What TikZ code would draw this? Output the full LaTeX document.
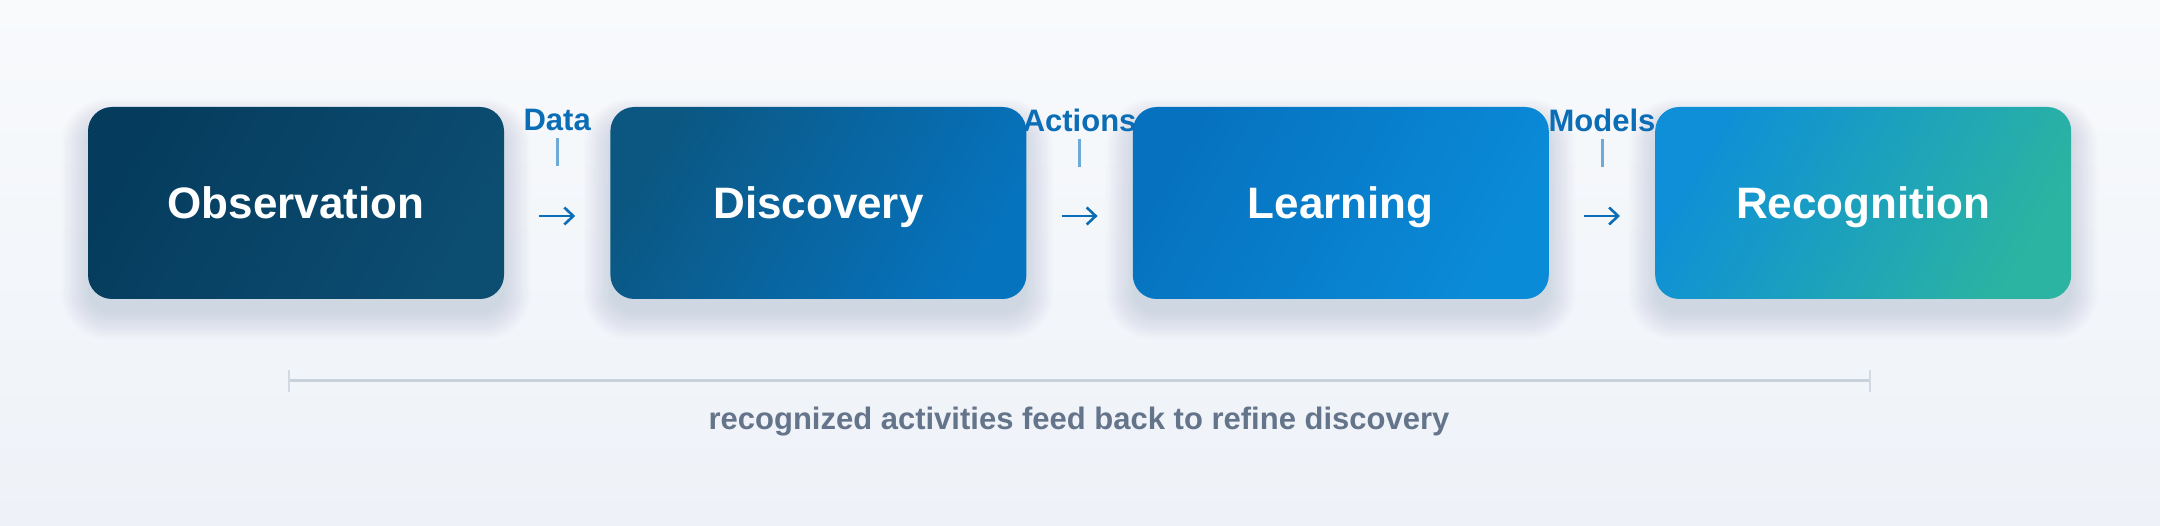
\documentclass[tikz,border=0pt]{standalone}
\usepackage{fontspec}
\setmainfont{Liberation Sans}
\usetikzlibrary{arrows.meta, positioning, backgrounds}

\definecolor{bgtop}{HTML}{F8FAFC}
\definecolor{bgbot}{HTML}{EEF2F8}
\definecolor{obsA}{HTML}{053C5D}
\definecolor{obsB}{HTML}{0C4D72}
\definecolor{discA}{HTML}{0B5782}
\definecolor{discB}{HTML}{0673BE}
\definecolor{learnA}{HTML}{0672BF}
\definecolor{learnB}{HTML}{0A8BD8}
\definecolor{recA}{HTML}{0E8FD7}
\definecolor{recB}{HTML}{2BB4A1}
\definecolor{flowblue}{HTML}{0B6DB5}
\definecolor{stemblue}{HTML}{6EA9D8}
\definecolor{railgray}{HTML}{C8D0DC}
\definecolor{notegray}{HTML}{64748B}
\definecolor{shadowc}{HTML}{1E3A5F}

\begin{document}
\begin{tikzpicture}[
	x=1pt, y=-1pt,
	node distance=106pt,
	stage/.style={rounded corners=24pt, minimum width=416pt, minimum height=192pt, inner sep=0pt, text height=32pt, text depth=0pt, text=white, font=\bfseries\fontsize{44}{52}\selectfont},
	grad/.style 2 args={left color=#1, right color=#2, shading angle=60},
	tag/.style={inner sep=0pt, text=flowblue, font=\bfseries\fontsize{31}{36}\selectfont},
	stem/.style={draw=stemblue, line width=3pt},
	arr/.style={-{Straight Barb[length=9pt, width=17pt]}, draw=flowblue, line width=2.6pt, shorten <=35pt, shorten >=35pt},
	rail/.style={draw=railgray, line width=3pt},
	railtick/.style={draw=railgray!80, line width=2pt},
	note/.style={text=notegray, font=\bfseries\fontsize{31}{36}\selectfont}
]

% page background
\begin{scope}[on background layer]
	\fill[top color=bgtop, bottom color=bgbot] (0,0) rectangle (2160,526);
\end{scope}

% pipeline stages
\node[stage, grad={obsA}{obsB}] (obs) at (296,203) {Observation};
\node[stage, grad={discA}{discB}, right=of obs] (disc) {Discovery};
\node[stage, grad={learnA}{learnB}, right=of disc] (learn) {Learning};
\node[stage, grad={recA}{recB}, right=of learn] (rec) {Recognition};

% soft shadows under the stages
\begin{scope}[on background layer]
	\foreach \n in {obs, disc, learn, rec}
		\foreach \k in {0,...,11}
			\fill[shadowc, opacity=0.012, rounded corners=24pt+\k*2pt]
				([xshift=-\k*2.4pt, yshift=-14pt+\k*2pt]\n.north west) rectangle ([xshift=\k*2.4pt, yshift=-14pt-\k*2.4pt]\n.south east);
\end{scope}

% hand-offs between stages
\draw[arr] ([yshift=-13pt]obs.east) -- ([yshift=-13pt]disc.west);
\draw[arr] ([yshift=-13pt]disc.east) -- ([yshift=-13pt]learn.west);
\draw[arr] ([yshift=-13pt]learn.east) -- ([yshift=-13pt]rec.west);

\path (obs) -- node[tag, yshift=83pt] (data) {Data} (disc);
\path (disc) -- node[tag, yshift=83pt] (actions) {Actions} (learn);
\path (learn) -- node[tag, yshift=83pt] (models) {Models} (rec);
\foreach \t in {data, actions, models}
	\draw[stem] ([yshift=-7pt]\t.south) -- ++(0,28);

% feedback rail
\coordinate (railL) at (289,381);
\coordinate (railR) at (1870,381);
\draw[rail] (railL) -- (railR);
\foreach \c in {railL, railR}
	\draw[railtick] ([yshift=11pt]\c) -- ([yshift=-11pt]\c);
\node[note] (feedback) at (1079,422) {recognized activities feed back to refine discovery};

\end{tikzpicture}
\end{document}
